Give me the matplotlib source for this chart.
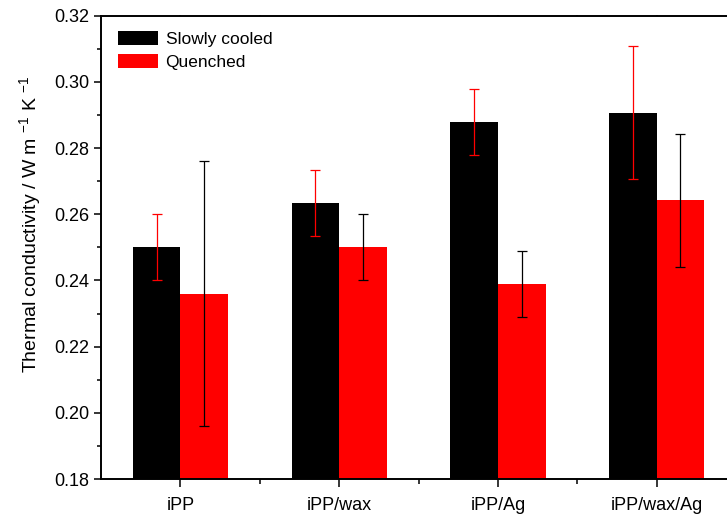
#!/usr/bin/env python3
"""Thermal conductivity of iPP samples, slowly cooled vs. quenched."""

import matplotlib
matplotlib.use("Agg")
import matplotlib.pyplot as plt
import numpy as np

plt.rcParams["font.family"] = ["Liberation Sans", "DejaVu Sans"]
plt.rcParams["mathtext.fontset"] = "custom"
plt.rcParams["mathtext.rm"] = "Liberation Sans"
plt.rcParams["mathtext.it"] = "Liberation Sans:italic"

samples = ["iPP", "iPP/wax", "iPP/Ag", "iPP/wax/Ag"]
slow_k = [0.250, 0.2635, 0.288, 0.2907]
slow_err = [0.010, 0.010, 0.010, 0.020]
quench_k = [0.236, 0.250, 0.239, 0.2642]
quench_err = [0.040, 0.010, 0.010, 0.020]
y_ticks = [0.18, 0.20, 0.22, 0.24, 0.26, 0.28, 0.30, 0.32]

W, H = 727, 517
fig = plt.figure(figsize=(W / 100, H / 100), dpi=100)
# axes runs slightly past the right edge so the right spine is clipped off
ax = fig.add_axes([101 / W, 1 - 479 / H, 635 / W, 463.3 / H])

x = np.arange(1, len(samples) + 1)
width = 0.3
err_kw = dict(elinewidth=0.9, capsize=3.4, capthick=0.9)

ax.bar(x - width / 2, slow_k, width, color="black", label="Slowly cooled",
       yerr=slow_err, ecolor="red", error_kw=err_kw)
ax.bar(x + width / 2, quench_k, width, color="red", label="Quenched",
       yerr=quench_err, ecolor="black", error_kw=err_kw)

ax.set_xlim(0.5, 4.5)
ax.set_ylim(0.18, 0.32)
ax.set_xticks(x)
ax.set_xticklabels(samples)
ax.set_xticks(x[:-1] + 0.5, minor=True)
ax.set_yticks(y_ticks)
ax.set_yticklabels([f"{v:.2f}" for v in y_ticks])
ax.set_yticks(np.arange(0.19, 0.32, 0.02), minor=True)

for side in ("left", "bottom", "top", "right"):
    ax.spines[side].set_linewidth(1.4)
ax.spines["right"].set_visible(False)

ax.tick_params(axis="y", which="major", direction="out", length=5,
               width=1.1, labelsize=13, pad=3.5)
ax.tick_params(axis="y", which="minor", direction="out", length=3,
               width=1.1)
ax.tick_params(axis="x", which="major", direction="out", length=6,
               width=1.1, labelsize=13, pad=7)
ax.tick_params(axis="x", which="minor", direction="out", length=3.5,
               width=1.1)
ax.tick_params(axis="x", which="both", top=True)
# top ticks are only tiny nubs on the frame
for t in ax.xaxis.get_ticklines(minor=False)[1::2] + ax.xaxis.get_ticklines(minor=True)[1::2]:
    t.set_markersize(1)

ax.set_ylabel(r"Thermal conductivity / W m $^{-1}$ K $^{-1}$", fontsize=14)
ax.yaxis.set_label_coords(-0.0915, 0.55)

ax.legend(loc="upper left", bbox_to_anchor=(0.026, 0.967), frameon=False,
          fontsize=12.5, handlelength=2.35, handleheight=0.9,
          handletextpad=0.42, labelspacing=0.38, borderpad=0,
          borderaxespad=0)

fig.savefig("out.png", dpi=100)
